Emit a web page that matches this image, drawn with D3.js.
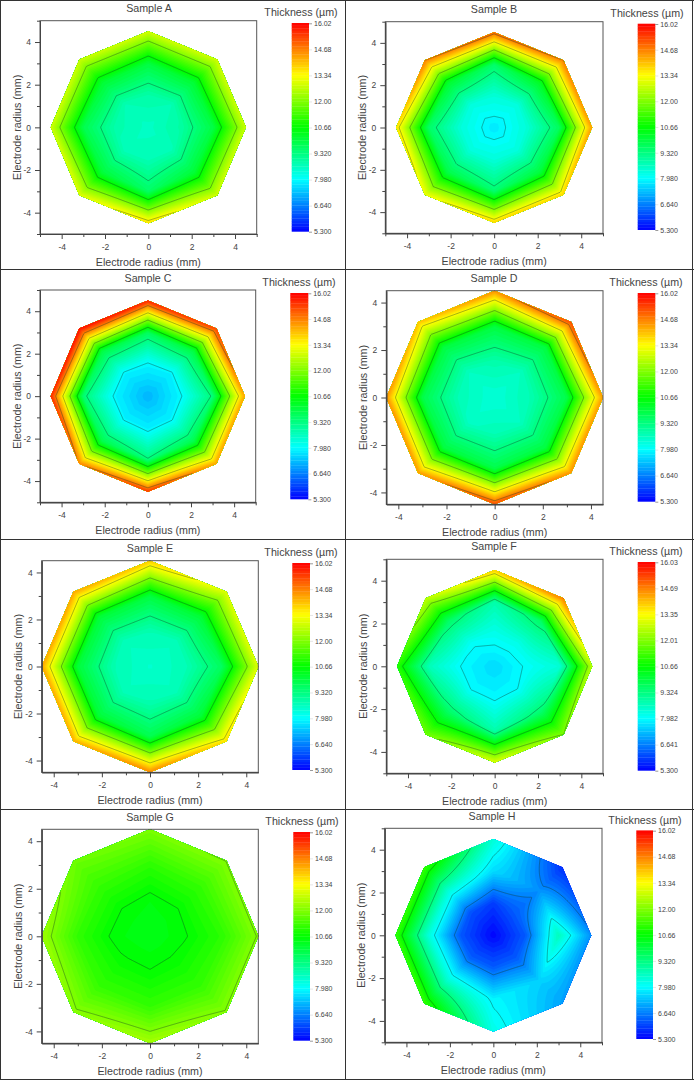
<!DOCTYPE html>
<html>
<head>
<meta charset="utf-8">
<script src="https://cdn.jsdelivr.net/npm/d3@7"></script>
<style>
  html, body { margin: 0; padding: 0; background: #fff; }
  svg { display: block; font-family: "Liberation Sans", Arial, sans-serif; }
  text { fill: #444; }
</style>
</head>
<body>
<svg id="chart" width="694" height="1080"></svg>
<script>
// thickness readings: centre, then rings at 1.5, 3 and 4.5 mm
// each ring runs E, NE, N, NW, W, SW, S, SE
const ringRadii = [0, 1.5, 3, 4.5];

const sampleA = [[8.6],
  [8.95, 8.78, 8.9, 8.78, 8.85, 8.7, 8.75, 8.75],
  [9.95, 10.15, 10.0, 10.15, 9.85, 10.05, 9.6, 10.1],
  [12.76, 12.84, 12.86, 12.8, 12.82, 13.0, 13.7, 12.84]];
const sampleB = [[7.75],
  [8.4, 8.32, 8.4, 8.32, 8.35, 8.32, 8.35, 8.32],
  [9.7, 10.3, 9.6, 10.2, 9.6, 9.9, 9.5, 10.05],
  [14.4, 14.7, 14.95, 14.7, 13.7, 13.2, 13.8, 13.8]];
const sampleC = [[7.2],
  [7.9, 7.85, 7.9, 7.85, 7.85, 7.85, 7.8, 7.85],
  [9.4, 9.95, 9.7, 9.95, 9.5, 9.85, 9.4, 9.85],
  [14.3, 15.3, 15.6, 15.9, 15.6, 14.6, 15.4, 14.3]];
const sampleD = [[8.4],
  [8.8, 8.65, 8.85, 8.65, 8.75, 8.6, 8.75, 8.65],
  [9.89, 10.0, 10.0, 10.0, 9.9, 10.0, 9.9, 10.0],
  [14.4, 15.2, 14.5, 14.0, 14.5, 14.4, 15.2, 14.5]];
const sampleE = [[8.5],
  [8.75, 8.7, 8.8, 8.7, 8.8, 8.7, 8.8, 8.7],
  [9.7, 10.1, 10.0, 10.1, 10.05, 10.1, 9.85, 10.1],
  [13.0, 13.0, 13.9, 14.3, 14.3, 14.2, 14.6, 13.7]];
const sampleF = [[7.6],
  [8.04, 8.2, 8.17, 8.04, 7.94, 7.93, 7.91, 7.98],
  [8.4, 9.6, 8.85, 9.6, 8.7, 9.6, 8.85, 9.5],
  [12.6, 14.7, 13.9, 12.7, 11.05, 11.8, 13.0, 12.0]];
const sampleG = [[10.4],
  [10.64, 10.6, 10.53, 10.6, 10.58, 10.7, 10.68, 10.72],
  [11.1, 11.2, 11.1, 11.2, 11.15, 11.2, 11.2, 11.2],
  [12.05, 12.02, 11.95, 11.8, 12.3, 12.1, 12.4, 12.05]];
const sampleH = [[5.35],
  [6.25, 6.3, 5.9, 6.15, 6.2, 6.3, 6.25, 6.25],
  [8.7, 6.8, 7.6, 8.5, 8.4, 8.5, 7.9, 7.5],
  [6.8, 5.8, 8.4, 11.2, 11.2, 11.2, 8.2, 7.0]];

const barLabels = ["16.02", "14.68", "13.34", "12.00", "10.66", "9.320", "7.980", "6.640", "5.300"];
const barLabelsF = ["16.03", "14.69", "13.35", "12.01", "10.66", "9.324", "7.982", "6.641", "5.300"];

// colours of the nine main levels, 5.3 up to 16.02
const levelColors = ["#0000ff", "#0080ff", "#00ffff", "#00ff80", "#00ff00", "#80ff00", "#ffff00", "#ff8000", "#ff0000"];
const mainLevels = d3.range(9).map(i => 5.3 + i * 1.34);

// plot, bar and label positions for each panel
const panels = [
  { name: "Sample A", data: sampleA, lim: 5,   plot: [40, 256.7, 20.7, 234],      bar: [291.7, 309, 23.3, 231.7],    tx: 149, ty: 8,   lx: 301, ly: 12 },
  { name: "Sample B", data: sampleB, lim: 5,   plot: [385.3, 603, 21.7, 233.3],   bar: [637.7, 655.3, 24, 230],      tx: 494, ty: 9,   lx: 647, ly: 13 },
  { name: "Sample C", data: sampleC, lim: 5,   plot: [40, 255.7, 290, 502.3],     bar: [290.3, 308.3, 293.3, 499.3], tx: 148, ty: 278, lx: 299, ly: 282 },
  { name: "Sample D", data: sampleD, lim: 4.5, plot: [386.3, 603, 290.7, 504.3],  bar: [637.7, 655.3, 293.3, 501.7], tx: 494, ty: 278, lx: 646, ly: 282 },
  { name: "Sample E", data: sampleE, lim: 4.5, plot: [41.7, 258.3, 560.7, 772.3], bar: [292.3, 310, 563.3, 770],     tx: 150, ty: 548, lx: 301, ly: 552 },
  { name: "Sample F", data: sampleF, lim: 5,   plot: [386.3, 603, 559.3, 773.3],  bar: [637.7, 655.3, 562.3, 770.7], tx: 494, ty: 546, lx: 646, ly: 551, labels: barLabelsF },
  { name: "Sample G", data: sampleG, lim: 4.5, plot: [41.7, 258.3, 829.3, 1043.3], bar: [293.3, 310, 832.3, 1040.7], tx: 150, ty: 817, lx: 302, ly: 821 },
  { name: "Sample H", data: sampleH, lim: 5,   plot: [384.7, 602, 828.3, 1042.3], bar: [636.3, 653, 830.7, 1039],    tx: 492, ty: 816, lx: 645, ly: 820 }
];

const svg = d3.select("#chart");

const color = d3.scaleLinear().domain(mainLevels).range(levelColors).interpolate(d3.interpolateRgb).clamp(true);
const fineStep = 1.34 / 10;
const fineLevels = d3.range(80).map(i => 5.3 + i * fineStep);

const sector = Math.PI / 4;
const unit = i => [Math.cos(i * sector), Math.sin(i * sector)];

// value at a point of the polar mesh, straight lines between the readings
function meshValue(data, px, py) {
  let th = Math.atan2(py, px);
  if (th < 0) th += 2 * Math.PI;
  const i = Math.min(7, Math.floor(th / sector));
  const u = unit(i), w = unit(i + 1);
  const det = u[0] * w[1] - u[1] * w[0];
  const a = (px * w[1] - py * w[0]) / det;
  const b = (u[0] * py - u[1] * px) / det;
  const s = Math.min(a + b, 4.5);
  const f = a + b > 0 ? b / (a + b) : 0;
  const ring = j => j === 0 ? data[0][0] : data[j][i] * (1 - f) + data[j][(i + 1) % 8] * f;
  let j = 0;
  while (j < 2 && s > ringRadii[j + 1]) j++;
  const t = (s - ringRadii[j]) / (ringRadii[j + 1] - ringRadii[j]);
  return ring(j) * (1 - t) + ring(j + 1) * t;
}

const gridN = 220;
const gridSpan = 5;
const gridToData = d3.scaleLinear().domain([0, gridN]).range([-gridSpan, gridSpan]);

panels.forEach((p, idx) => {
  const [x0, x1, y0, y1] = p.plot;
  const x = d3.scaleLinear().domain([-p.lim, p.lim]).range([x0, x1]);
  const y = d3.scaleLinear().domain([-p.lim, p.lim]).range([y1, y0]);
  const g = svg.append("g");

  const octagon = d3.range(8).map(i => [x(4.5 * unit(i)[0]), y(4.5 * unit(i)[1])]);
  g.append("clipPath").attr("id", "clip" + idx)
    .append("polygon").attr("points", octagon.join(" "));

  const values = new Float64Array(gridN * gridN);
  for (let r = 0; r < gridN; r++) {
    for (let c = 0; c < gridN; c++) {
      values[r * gridN + c] = meshValue(p.data, gridToData(c + 0.5), gridToData(r + 0.5));
    }
  }

  const path = d3.geoPath(d3.geoTransform({
    point(gx, gy) { this.stream.point(x(gridToData(gx)), y(gridToData(gy))); }
  }));
  const contours = d3.contours().size([gridN, gridN]);

  const field = g.append("g").attr("clip-path", `url(#clip${idx})`);
  field.append("polygon").attr("points", octagon.join(" ")).attr("fill", color(d3.min(values)));
  field.selectAll("path.band")
    .data(contours.thresholds(fineLevels)(values))
    .join("path")
    .attr("class", "band")
    .attr("d", path)
    .attr("fill", d => color(d.value + fineStep / 2));
  field.selectAll("path.line")
    .data(contours.thresholds(mainLevels)(values))
    .join("path")
    .attr("class", "line")
    .attr("d", path)
    .attr("fill", "none")
    .attr("stroke", "#143c28")
    .attr("stroke-opacity", 0.5)
    .attr("stroke-width", 0.8);

  // frame and axes
  g.append("rect")
    .attr("x", x0).attr("y", y0).attr("width", x1 - x0).attr("height", y1 - y0)
    .attr("fill", "none").attr("stroke", "#555").attr("stroke-width", 1);

  const major = [-4, -2, 0, 2, 4];
  const minor = d3.range(p.lim === 5 ? -5 : -3, p.lim === 5 ? 6 : 4, 2);
  const styleAxis = a => {
    a.select(".domain").attr("stroke", "#444");
    a.selectAll("line").attr("stroke", "#444");
    a.selectAll("text").attr("font-size", 8.5).attr("fill", "#444");
  };
  g.append("g").attr("transform", `translate(0,${y1})`)
    .call(d3.axisBottom(x).tickValues(major).tickSize(5).tickPadding(5).tickSizeOuter(0).tickFormat(String))
    .call(styleAxis);
  g.append("g").attr("transform", `translate(0,${y1})`)
    .call(d3.axisBottom(x).tickValues(minor).tickSize(3).tickFormat("").tickSizeOuter(0))
    .call(styleAxis);
  g.append("g").attr("transform", `translate(${x0},0)`)
    .call(d3.axisLeft(y).tickValues(major).tickSize(5).tickPadding(4).tickSizeOuter(0).tickFormat(String))
    .call(styleAxis);
  g.append("g").attr("transform", `translate(${x0},0)`)
    .call(d3.axisLeft(y).tickValues(minor).tickSize(3).tickFormat("").tickSizeOuter(0))
    .call(styleAxis);

  g.append("text").attr("x", p.tx).attr("y", p.ty).attr("dy", "0.35em")
    .attr("text-anchor", "middle").attr("font-size", 10.7).text(p.name);
  g.append("text").attr("x", (x0 + x1) / 2).attr("y", y1 + 28).attr("dy", "0.35em")
    .attr("text-anchor", "middle").attr("font-size", 10.7).text("Electrode radius (mm)");
  g.append("text")
    .attr("transform", `translate(${x0 - 23},${(y0 + y1) / 2}) rotate(-90)`).attr("dy", "0.35em")
    .attr("text-anchor", "middle").attr("font-size", 10.7).text("Electrode radius (mm)");

  // colour bar
  const [bx0, bx1, by0, by1] = p.bar;
  const barY = d3.scaleLinear().domain([5.3, 16.02]).range([by1, by0]);
  g.selectAll("rect.level")
    .data(fineLevels)
    .join("rect")
    .attr("class", "level")
    .attr("x", bx0).attr("width", bx1 - bx0)
    .attr("y", d => barY(d + fineStep) - 0.3)
    .attr("height", d => barY(d) - barY(d + fineStep) + 0.3)
    .attr("fill", d => color(d + fineStep / 2));

  const labels = p.labels || barLabels;
  const barAxis = d3.axisRight(barY)
    .tickValues(mainLevels)
    .tickSize(3).tickPadding(2).tickSizeOuter(0)
    .tickFormat((d, i) => labels[labels.length - 1 - i]);
  g.append("g").attr("transform", `translate(${bx1},0)`).call(barAxis)
    .call(a => {
      a.select(".domain").remove();
      // only the two end ticks show in the picture
      a.selectAll("line").attr("stroke", "#555").attr("stroke-width", 0.6)
        .attr("stroke-opacity", (d, i) => i === 0 || i === 8 ? 1 : 0.25);
      a.selectAll("text").attr("font-size", 7).attr("fill", "#444");
    });

  g.append("text").attr("x", p.lx).attr("y", p.ly).attr("dy", "0.35em")
    .attr("text-anchor", "middle").attr("font-size", 10.7).text("Thickness (\u00b5m)");
});

// panel grid
const hLines = [0.5, 269.5, 539.5, 809.5, 1079.5];
const vLines = [0.5, 345.5, 692.5];
svg.selectAll("line.hgrid").data(hLines).join("line").attr("class", "hgrid")
  .attr("x1", 0).attr("x2", 694).attr("y1", d => d).attr("y2", d => d)
  .attr("stroke", "#333").attr("stroke-width", 1);
svg.selectAll("line.vgrid").data(vLines).join("line").attr("class", "vgrid")
  .attr("y1", 0).attr("y2", 1080).attr("x1", d => d).attr("x2", d => d)
  .attr("stroke", "#333").attr("stroke-width", 1);
</script>
</body>
</html>
